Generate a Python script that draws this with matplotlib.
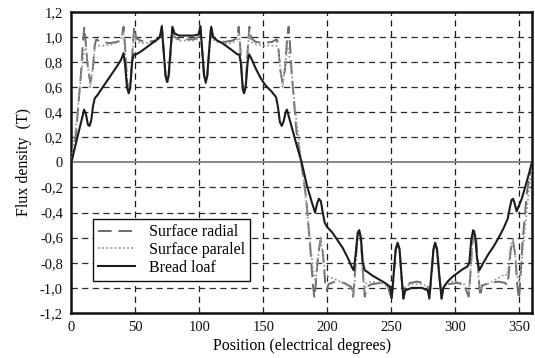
import matplotlib
matplotlib.use("Agg")
import matplotlib.pyplot as plt
from matplotlib.ticker import FuncFormatter, MultipleLocator

# Air-gap flux density over one electrical period for three magnet shapes
pos_radial = [
    0.4, 3.8, 7.5, 9.0, 10.2, 11.3, 13.0, 15.0, 16.8, 18.3, 19.5, 23, 30, 36,
    39.3, 40.8, 42.0, 43.6, 45.0, 46.4, 48.0, 49.2, 50.6, 54, 60, 66,
    69.3, 70.8, 72.0, 73.6, 75.0, 76.4, 78.0, 79.2, 80.6, 84, 90, 96,
    99.4, 100.8, 102.0, 103.6, 105.0, 106.4, 108.0, 109.2, 110.6, 114, 120, 126,
    129.4, 130.8, 132.0, 133.6, 135.0, 136.4, 138.0, 139.2, 140.6, 144, 150, 157,
    160.5, 161.7, 163.2, 165.0, 167.0, 168.7, 169.8, 171.0, 172.3, 176.0, 179.6,
    183.5, 187.0, 188.8, 190.0, 191.2, 193.0, 194.8, 196.6, 198.3, 199.5, 201, 206, 213,
    218.5, 220.2, 221.5, 223.3, 224.8, 226.3, 228.0, 229.3, 230.7, 235, 242, 247,
    250.3, 251.8, 253.5, 255.0, 256.5, 258.0, 259.5, 261, 265, 270, 275,
    278.5, 279.8, 281.3, 283.0, 284.5, 286.0, 287.8, 289.4, 290.8, 295, 302, 307,
    310.5, 311.8, 313.5, 315.0, 316.5, 318.2, 319.5, 321, 327, 334, 339,
    340.5, 341.8, 343.3, 345.0, 346.7, 348.5, 349.8, 351.0, 352.5, 356.0, 360,
]
flux_radial = [
    0.0, 0.24, 0.70, 0.95, 1.08, 0.95, 0.74, 0.64, 0.74, 0.93, 0.98, 0.96, 0.95, 0.96,
    0.99, 1.08, 0.92, 0.64, 0.57, 0.64, 0.92, 1.08, 0.99, 0.97, 0.96, 0.97,
    1.00, 1.09, 0.92, 0.70, 0.63, 0.70, 0.92, 1.09, 1.00, 0.98, 0.98, 0.98,
    1.00, 1.09, 0.92, 0.70, 0.63, 0.70, 0.92, 1.09, 1.00, 0.97, 0.96, 0.97,
    0.99, 1.08, 0.92, 0.64, 0.57, 0.64, 0.92, 1.08, 0.99, 0.96, 0.95, 0.96,
    0.98, 0.93, 0.74, 0.64, 0.74, 1.00, 1.08, 0.92, 0.70, 0.24, 0.0,
    -0.28, -0.72, -0.98, -1.08, -0.95, -0.72, -0.62, -0.72, -0.95, -1.02, -0.97, -0.95, -0.96,
    -0.99, -1.07, -0.90, -0.62, -0.55, -0.62, -0.90, -1.07, -0.99, -0.97, -0.96, -0.98,
    -1.09, -0.92, -0.70, -0.65, -0.70, -0.92, -1.09, -0.99, -0.96, -0.95, -0.96,
    -0.99, -1.09, -0.92, -0.70, -0.65, -0.70, -0.92, -1.09, -0.99, -0.97, -0.96, -0.98,
    -1.07, -0.90, -0.62, -0.55, -0.62, -0.90, -1.07, -0.98, -0.96, -0.95, -0.96,
    -0.98, -0.90, -0.70, -0.62, -0.72, -0.98, -1.09, -0.92, -0.65, -0.24, 0.0,
]

pos_paralel = [
    0, 4.0, 7.5, 10.0, 11.3, 12.8, 14.8, 16.8, 18.4, 20, 26, 32, 37,
    39.5, 40.9, 42.2, 43.8, 45.0, 46.3, 47.8, 49.1, 50.5, 54, 60, 66,
    69.4, 70.8, 72.1, 73.7, 75.0, 76.3, 77.9, 79.2, 80.6, 84, 90, 96,
    99.4, 100.8, 102.1, 103.7, 105.0, 106.3, 107.9, 109.2, 110.6, 114, 120, 126,
    129.5, 130.9, 132.2, 133.8, 135.0, 136.2, 137.8, 139.1, 140.5, 144, 150, 156,
    160, 161.6, 163.2, 165.2, 167.2, 168.7, 170.0, 172.5, 176.0, 180.0,
    184, 187.5, 189.5, 190.8, 192.5, 194.8, 196.8, 198.6, 200, 206, 212, 217,
    219.5, 220.6, 222.0, 223.6, 224.9, 226.2, 227.8, 229.2, 230.5, 235, 242, 247,
    250.3, 251.8, 253.5, 255.0, 256.5, 258.0, 259.5, 261, 266, 270, 274,
    278.5, 279.8, 281.3, 283.0, 284.5, 286.0, 287.8, 289.4, 290.8, 296, 302, 307,
    310.5, 311.8, 313.5, 315.0, 316.4, 318.0, 319.4, 321, 327, 334, 339,
    340.5, 342.0, 343.5, 345.0, 346.8, 348.8, 350.0, 351.5, 354.0, 357.0, 360,
]
flux_paralel = [
    0.0, 0.32, 0.68, 0.88, 0.93, 0.78, 0.60, 0.76, 0.92, 0.93, 0.93, 0.94, 0.96,
    0.99, 1.04, 0.88, 0.64, 0.58, 0.64, 0.88, 1.03, 0.97, 0.95, 0.95, 0.96,
    0.99, 1.06, 0.90, 0.69, 0.64, 0.69, 0.90, 1.06, 0.99, 0.97, 0.97, 0.97,
    0.99, 1.06, 0.90, 0.69, 0.64, 0.69, 0.90, 1.06, 0.98, 0.96, 0.95, 0.95,
    0.98, 1.03, 0.88, 0.64, 0.58, 0.64, 0.88, 1.04, 0.96, 0.94, 0.93, 0.93,
    0.93, 0.92, 0.76, 0.60, 0.78, 0.93, 0.88, 0.68, 0.32, 0.0,
    -0.36, -0.72, -0.90, -0.95, -0.78, -0.60, -0.76, -0.90, -0.91, -0.93, -0.96, -0.99,
    -1.02, -1.05, -0.88, -0.64, -0.57, -0.64, -0.88, -1.04, -0.96, -0.95, -0.96, -0.99,
    -1.07, -0.90, -0.70, -0.65, -0.70, -0.90, -1.07, -0.99, -0.97, -0.97, -0.97,
    -0.99, -1.07, -0.90, -0.70, -0.65, -0.70, -0.90, -1.07, -0.98, -0.95, -0.95, -0.97,
    -1.04, -0.88, -0.64, -0.57, -0.64, -0.88, -1.02, -0.99, -0.96, -0.92, -0.89,
    -0.90, -0.80, -0.66, -0.60, -0.74, -0.92, -0.95, -0.84, -0.58, -0.28, 0.0,
]

pos_loaf = [
    0, 5, 10.0, 11.5, 13.0, 14.2, 15.5, 17.0, 18.3, 20, 24, 28, 32, 36, 39,
    40.8, 42.0, 43.5, 44.8, 46.0, 47.5, 48.8, 50.5, 54, 58, 62, 66,
    69.2, 70.7, 72.0, 73.6, 74.8, 76.0, 77.7, 79.0, 80.5, 84, 90, 96,
    99.4, 100.9, 102.2, 103.8, 105.0, 106.2, 107.9, 109.3, 110.8, 114, 118, 122, 126,
    129.8, 131.3, 132.6, 134.0, 135.0, 136.3, 137.8, 139.0, 141, 144, 148, 152, 156,
    160.0, 161.5, 163.0, 164.5, 166.0, 167.5, 168.5, 172, 176, 180.0,
    184, 188, 190.5, 192.0, 193.5, 195.0, 196.5, 198.0, 199.5, 204, 208, 212, 216,
    219.5, 220.8, 222.3, 223.8, 225.0, 226.3, 227.8, 229.3, 231, 235, 240, 245,
    249, 250.4, 251.8, 253.5, 255.0, 256.5, 258.0, 259.5, 261, 266, 270, 274,
    278.5, 279.8, 281.3, 283.0, 284.3, 285.7, 287.5, 289.3, 290.7, 294, 298, 302, 306,
    309.5, 311.0, 312.5, 314.0, 315.5, 317.0, 318.8, 322, 326, 330, 334, 338,
    341.0, 342.5, 344.0, 345.2, 346.5, 348.0, 352, 356, 360,
]
flux_loaf = [
    0.0, 0.21, 0.42, 0.38, 0.30, 0.29, 0.33, 0.45, 0.51, 0.53, 0.59, 0.65, 0.71, 0.77, 0.82,
    0.87, 0.78, 0.60, 0.55, 0.59, 0.80, 0.86, 0.86, 0.88, 0.91, 0.94, 0.97,
    1.00, 1.08, 0.91, 0.69, 0.64, 0.69, 0.92, 1.08, 1.03, 1.01, 1.01, 1.01,
    1.02, 1.08, 0.91, 0.69, 0.64, 0.69, 0.92, 1.08, 1.00, 0.97, 0.95, 0.92, 0.89,
    0.86, 0.86, 0.78, 0.58, 0.55, 0.60, 0.80, 0.86, 0.82, 0.75, 0.67, 0.61, 0.57,
    0.52, 0.44, 0.32, 0.29, 0.33, 0.40, 0.42, 0.29, 0.14, 0.0,
    -0.18, -0.32, -0.40, -0.33, -0.29, -0.31, -0.40, -0.48, -0.51, -0.56, -0.62, -0.68, -0.76,
    -0.84, -0.86, -0.72, -0.56, -0.54, -0.60, -0.80, -0.86, -0.87, -0.90, -0.93, -0.96,
    -0.99, -1.08, -0.90, -0.69, -0.64, -0.69, -0.90, -1.08, -1.02, -1.00, -1.00, -1.00,
    -1.02, -1.08, -0.90, -0.69, -0.64, -0.69, -0.90, -1.08, -1.00, -0.95, -0.91, -0.88, -0.85,
    -0.83, -0.80, -0.62, -0.54, -0.58, -0.76, -0.86, -0.80, -0.73, -0.67, -0.60, -0.52,
    -0.45, -0.37, -0.30, -0.29, -0.33, -0.39, -0.29, -0.15, 0.0,
]

series_labels = ["Surface radial", "Surface paralel", "Bread loaf"]
x_ticks = [0, 50, 100, 150, 200, 250, 300, 350]

plt.rcParams["font.family"] = ["Liberation Serif", "DejaVu Serif"]

fig = plt.figure(figsize=(5.35, 3.58), dpi=100)
ax = fig.add_axes([0.1333, 0.1257, 0.8611, 0.8416])

ax.set_xlim(0, 360)
ax.set_ylim(-1.2, 1.2)

# dashed grid
for xv in x_ticks[1:]:
    ax.axvline(xv, color="#1a1a1a", lw=0.9, ls=(0, (5, 3.5)), zorder=1)
for yv in [-1.0, -0.8, -0.6, -0.4, -0.2, 0.2, 0.4, 0.6, 0.8, 1.0]:
    ax.axhline(yv, color="#2a2a2a", lw=0.9, ls=(0, (5, 3.5)), zorder=1)
ax.axhline(0.0, color="#808080", lw=1.3, zorder=1.5)

ax.plot(pos_radial, flux_radial, color="#6c6c6c", lw=1.4, ls=(0, (7, 3.5)),
        label=series_labels[0], zorder=3)
ax.plot(pos_paralel, flux_paralel, color="#9a9a9a", lw=1.3, ls=(0, (1, 1.3)),
        label=series_labels[1], zorder=3)
ax.plot(pos_loaf, flux_loaf, color="#1c1c1c", lw=1.5,
        label=series_labels[2], zorder=4)

ax.set_xticks(x_ticks)
ax.yaxis.set_major_locator(MultipleLocator(0.2))


def comma_fmt(v, _pos):
    if abs(v) < 1e-9:
        return "0"
    return f"{v:.1f}".replace(".", ",")


ax.yaxis.set_major_formatter(FuncFormatter(comma_fmt))
ax.tick_params(axis="both", length=0, labelsize=10.5, pad=6, colors="#111111")

for sp in ax.spines.values():
    sp.set_linewidth(1.8)
    sp.set_color("#111111")

ax.set_xlabel("Position (electrical degrees)", fontsize=11.5, labelpad=3)
ax.set_ylabel("Flux density  (T)", fontsize=11.5, labelpad=6)

leg = ax.legend(loc="lower left", bbox_to_anchor=(0.048, 0.107), borderaxespad=0,
                fontsize=11.5, frameon=True, fancybox=False, handlelength=2.3,
                handletextpad=0.9, labelspacing=0.12, borderpad=0.3)
leg.get_frame().set_edgecolor("#111111")
leg.get_frame().set_linewidth(1.0)
leg.get_frame().set_alpha(1.0)

fig.savefig("out.png", dpi=100)
